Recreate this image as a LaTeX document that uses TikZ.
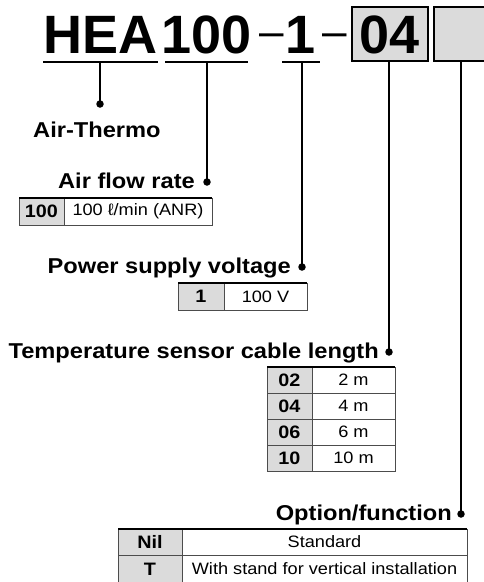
\documentclass[tikz,border=0pt]{standalone}
\usepackage{fontspec}
\setmainfont{Liberation Sans}
\newfontfamily\titlefont{Liberation Sans}
\newfontfamily\labfont[FakeStretch=1.1]{Liberation Sans}
\definecolor{cellgray}{gray}{0.86}
\definecolor{rulegray}{gray}{0.3}
\tikzset{
  ttl/.style={font=\titlefont\bfseries\fontsize{54}{54}\selectfont, inner sep=0, anchor=base},
  dsh/.style={font=\titlefont\fontsize{44}{44}\selectfont, inner sep=0, anchor=base},
  codebox/.style={draw=black, line width=2pt, fill=cellgray},
  uline/.style={line width=2pt},
  conn/.style={line width=1.6pt},
  dotn/.style={circle, fill=black, inner sep=0, minimum size=7.5pt},
  lab/.style={font=\labfont\bfseries\fontsize{21.5}{21.5}\selectfont, inner sep=0},
  keycell/.style={draw=rulegray, line width=0.8pt, fill=cellgray, inner sep=0,
     font=\labfont\bfseries\fontsize{18}{18}\selectfont},
  valcell/.style={draw=rulegray, line width=0.8pt, fill=white, inner sep=0,
     font=\labfont\fontsize{16.5}{16.5}\selectfont},
  toprule/.style={line width=1.6pt, black}
}
\begin{document}
\begin{tikzpicture}[x=1pt,y=-1pt]
\useasboundingbox (0,0) rectangle (484,582);
\fill[white] (0,0) rectangle (484,582);

% ---- code boxes
\draw[codebox] (352,7) rectangle (428,61);
\draw[codebox] (434,7) rectangle (490,61);

% ---- title
\node[ttl] (hea) at (100.5,53) {HEA};
\node[ttl] (flow) at (206.5,53) {100};
\node[dsh] (da) at (272,46) {–};
\node[ttl] (volt) at (301,53) {1};
\node[dsh] (db) at (334.5,46) {–};
\node[ttl] (cab) at (390,53) {04};

% underlines
\draw[uline] (43,62) -- (158,62);
\draw[uline] (165,62) -- (248,62);
\draw[uline] (282,62) -- (320,62);

% connector start points
\coordinate (u1) at (100,62);
\coordinate (u2) at (207,62);
\coordinate (u3) at (302,62);
\coordinate (u4) at (389,62);
\coordinate (u5) at (461,62);

% dots
\node[dotn] (d1) at (100,104) {};
\node[dotn] (d2) at (207,182) {};
\node[dotn] (d3) at (302,267) {};
\node[dotn] (d4) at (389,352) {};
\node[dotn] (d5) at (461,514) {};

\draw[conn] (u1) -- (d1.center);
\draw[conn] (u2) -- (d2.center);
\draw[conn] (u3) -- (d3.center);
\draw[conn] (u4) -- (d4.center);
\draw[conn] (u5) -- (d5.center);

% labels
\node[lab, anchor=base west] (l1) at (33,137) {Air-Thermo};
\node[lab, anchor=base east] (l2) at (195,188) {Air flow rate};
\node[lab, anchor=base east] (l3) at (291,273) {Power supply voltage};
\node[lab, anchor=base east] (l4) at (379,358) {Temperature sensor cable length};
\node[lab, anchor=base east] (l5) at (452,520) {Option/function};

% table: air flow rate
\node[keycell, minimum width=45pt, minimum height=27pt] (t1k) at (41.5,211.5) {100};
\node[valcell, minimum width=148pt, minimum height=27pt] (t1v) at (138,211.5) {100 ℓ/min (ANR)};
\draw[toprule] (19,198) -- (212,198);

% table: power supply
\node[keycell, minimum width=46pt, minimum height=27pt] (t2k) at (201,296.5) {1};
\node[valcell, minimum width=83pt, minimum height=27pt] (t2v) at (265.5,296.5) {100 V};
\draw[toprule] (178,283) -- (307,283);

% table: cable length
\node[keycell, minimum width=45pt, minimum height=26pt] (t3ak) at (289.5,380) {02};
\node[valcell, minimum width=83pt, minimum height=26pt] (t3av) at (353.5,380) {2 m};
\node[keycell, minimum width=45pt, minimum height=26pt] (t3bk) at (289.5,406) {04};
\node[valcell, minimum width=83pt, minimum height=26pt] (t3bv) at (353.5,406) {4 m};
\node[keycell, minimum width=45pt, minimum height=26pt] (t3ck) at (289.5,432) {06};
\node[valcell, minimum width=83pt, minimum height=26pt] (t3cv) at (353.5,432) {6 m};
\node[keycell, minimum width=45pt, minimum height=26pt] (t3dk) at (289.5,458) {10};
\node[valcell, minimum width=83pt, minimum height=26pt] (t3dv) at (353.5,458) {10 m};
\draw[toprule] (267,367) -- (395,367);

% table: option/function
\node[keycell, minimum width=64pt, minimum height=26pt] (t4ak) at (150,542) {Nil};
\node[valcell, minimum width=285pt, minimum height=26pt] (t4av) at (324.5,542) {Standard};
\node[keycell, minimum width=64pt, minimum height=28pt] (t4bk) at (150,569) {T};
\node[valcell, minimum width=285pt, minimum height=28pt] (t4bv) at (324.5,569) {With stand for vertical installation};
\draw[toprule] (118,529) -- (467,529);
\end{tikzpicture}
\end{document}
